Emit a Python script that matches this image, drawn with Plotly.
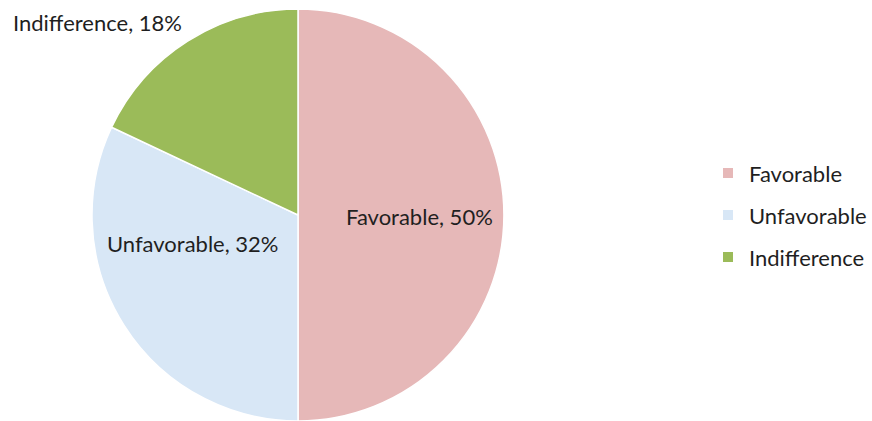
import plotly.graph_objects as go

# Survey response shares (percent)
categories = ["Favorable", "Unfavorable", "Indifference"]
shares = [50, 32, 18]
slice_colors = ["#e6b8b8", "#d8e7f6", "#9bbb59"]

W, H = 872, 421
FONT = "Lato"
FONT_SIZE = 22
TEXT_COLOR = "#1f1f1f"

# Pie geometry in pixels
cx, cy, r = 298, 215, 206


def paper(x, y):
    """Convert pixel coordinates (origin top-left) into paper coordinates."""
    return x / W, 1 - y / H


fig = go.Figure(
    go.Pie(
        labels=categories,
        values=shares,
        sort=False,
        direction="clockwise",
        rotation=0,
        textinfo="none",
        hoverinfo="label+percent",
        marker=dict(colors=slice_colors, line=dict(color="white", width=1.5)),
        domain=dict(x=[(cx - r) / W, (cx + r) / W], y=[(H - cy - r) / H, (H - cy + r) / H]),
        showlegend=False,
    )
)

# Data labels: "<category>, <share>%"
label_pos = {"Favorable": (419, 216), "Unfavorable": (193, 243), "Indifference": (97, 23)}
annotations = []
for cat, val in zip(categories, shares):
    x, y = paper(*label_pos[cat])
    annotations.append(
        dict(
            x=x, y=y, xref="paper", yref="paper", xanchor="center", yanchor="middle",
            text=f"{cat}, {val}%", showarrow=False,
            font=dict(family=FONT, size=FONT_SIZE, color=TEXT_COLOR),
        )
    )

# Legend: colour swatch plus category name, one row per slice
shapes = []
leg_x, leg_y0, leg_gap, sw = 723, 173, 42, 10
for i, (cat, col) in enumerate(zip(categories, slice_colors)):
    yc = leg_y0 + i * leg_gap
    x0, y0 = paper(leg_x, yc - sw / 2)
    x1, y1 = paper(leg_x + sw, yc + sw / 2)
    shapes.append(dict(type="rect", xref="paper", yref="paper", x0=x0, x1=x1, y0=y1, y1=y0,
                       fillcolor=col, line=dict(width=0)))
    tx, ty = paper(leg_x + sw + 14, yc)
    annotations.append(
        dict(
            x=tx, y=ty, xref="paper", yref="paper", xanchor="left", yanchor="middle",
            text=cat, showarrow=False,
            font=dict(family=FONT, size=FONT_SIZE, color=TEXT_COLOR),
        )
    )

fig.update_layout(
    width=W, height=H,
    margin=dict(l=0, r=0, t=0, b=0),
    paper_bgcolor="white", plot_bgcolor="white",
    annotations=annotations, shapes=shapes,
)

fig.write_html("out.html")
